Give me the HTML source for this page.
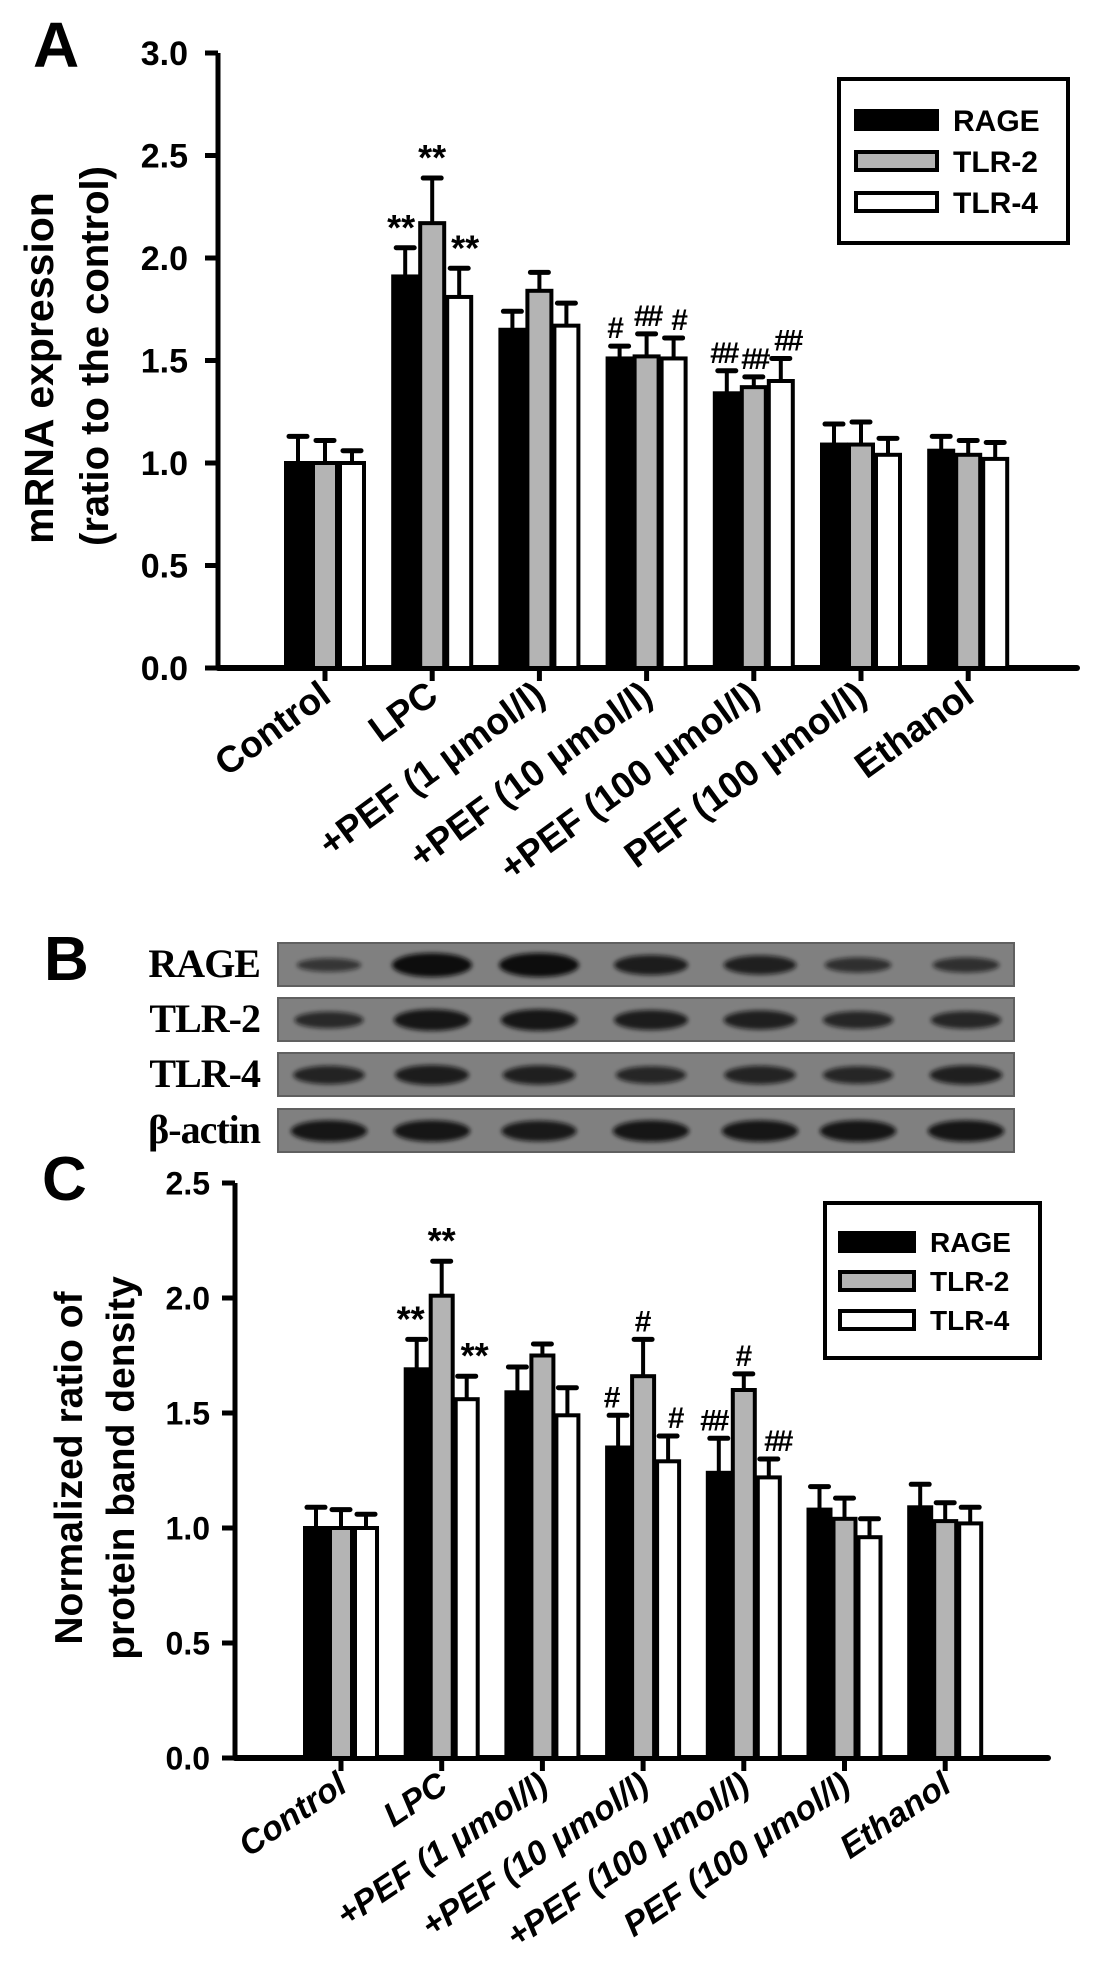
<!DOCTYPE html>
<html><head><meta charset="utf-8"><style>
html,body{margin:0;padding:0;background:#fff;}
svg{display:block;font-family:"Liberation Sans",Arial,sans-serif;}
</style></head><body>
<svg id="fig" width="1098" height="1968" viewBox="0 0 1098 1968" xmlns="http://www.w3.org/2000/svg">
<defs><filter id="blur" x="-20%" y="-50%" width="140%" height="200%"><feGaussianBlur stdDeviation="2"/></filter></defs>
<g id="panelA"></g>
<g id="panelB"></g>
<g id="panelC"></g>
</svg>
<script>
const categories = ["Control","LPC","+PEF (1 \u03bcmol/l)","+PEF (10 \u03bcmol/l)","+PEF (100 \u03bcmol/l)","PEF (100 \u03bcmol/l)","Ethanol"];
const seriesNames = ["RAGE","TLR-2","TLR-4"];
// Panel A: mRNA expression
const aRAGE = [1.00,1.91,1.65,1.51,1.34,1.09,1.06];
const aRAGEerr = [0.13,0.14,0.09,0.06,0.11,0.10,0.07];
const aTLR2 = [1.00,2.17,1.84,1.52,1.37,1.09,1.04];
const aTLR2err = [0.11,0.22,0.09,0.11,0.05,0.11,0.07];
const aTLR4 = [1.00,1.81,1.67,1.51,1.40,1.04,1.02];
const aTLR4err = [0.06,0.14,0.11,0.10,0.11,0.08,0.08];
const aTicks = ["0.0","0.5","1.0","1.5","2.0","2.5","3.0"];
const aMarks = [["","",""],["**","**","**"],["","",""],["#","##","#"],["##","##","##"],["","",""],["","",""]];
// Panel C: protein band density
const cRAGE = [1.00,1.69,1.59,1.35,1.24,1.08,1.09];
const cRAGEerr = [0.09,0.13,0.11,0.14,0.15,0.10,0.10];
const cTLR2 = [1.00,2.01,1.75,1.66,1.60,1.04,1.03];
const cTLR2err = [0.08,0.15,0.05,0.16,0.07,0.09,0.08];
const cTLR4 = [1.00,1.56,1.49,1.29,1.22,0.96,1.02];
const cTLR4err = [0.06,0.10,0.12,0.11,0.08,0.08,0.07];
const cTicks = ["0.0","0.5","1.0","1.5","2.0","2.5"];
const cMarks = [["","",""],["**","**","**"],["","",""],["#","#","#"],["##","#","##"],["","",""],["","",""]];
// Panel B: band intensities (0-1) per lane
const blotRows = ["RAGE","TLR-2","TLR-4","\u03b2-actin"];
const bandRAGE = [0.35,1.0,1.0,0.75,0.7,0.45,0.45];
const bandTLR2 = [0.55,0.85,0.85,0.75,0.7,0.6,0.6];
const bandTLR4 = [0.65,0.75,0.7,0.6,0.65,0.6,0.7];
const bandActin = [0.85,0.85,0.8,0.85,0.85,0.85,0.85];

const NS="http://www.w3.org/2000/svg";
function mk(parent,tag,attrs,text){const e=document.createElementNS(NS,tag);for(const k in attrs)e.setAttribute(k,attrs[k]);if(text!==undefined)e.textContent=text;parent.appendChild(e);return e;}

function drawChart(g,cfg){
  const yS=v=>cfg.base-v*cfg.unit;
  const xS=i=>cfg.x0+i*cfg.step;
  const ya=mk(g,'line',{x1:cfg.axisX,y1:yS(cfg.ymax),x2:cfg.axisX,y2:cfg.base,stroke:'#000','stroke-width':5});
  
  
  const xa=mk(g,'line',{x1:cfg.axisX,y1:cfg.base,x2:cfg.xEnd,y2:cfg.base,stroke:'#000','stroke-width':6,'stroke-linecap':'round'});
  
  
  cfg.ticks.forEach((t,i)=>{
    const v=parseFloat(t);
    const tl=mk(g,'line',{x1:cfg.axisX-13,y1:yS(v),x2:cfg.axisX,y2:yS(v),stroke:'#000','stroke-width':5});
    
    
    const tx=mk(g,'text',{x:cfg.tickLabelX,y:yS(v)+cfg.tickFont*0.36,'text-anchor':'end','font-size':cfg.tickFont,'font-weight':'bold'},t);
    
    
  });
  const series=[cfg.s1,cfg.s2,cfg.s3];
  const errs=[cfg.e1,cfg.e2,cfg.e3];
  const fills=['#000','#b4b4b4','#fff'];
  const bw=cfg.bw;
  categories.forEach((c,i)=>{
    const cx=xS(i);
    const xt=mk(g,'line',{x1:cx,y1:cfg.base,x2:cx,y2:cfg.base+13,stroke:'#000','stroke-width':5});
    
    
    for(let s=0;s<3;s++){
      const v=series[s][i], e=errs[s][i];
      const bx=cx-1.5*bw+s*bw;
      const top=yS(v);
      const el=mk(g,'line',{x1:bx+bw/2,y1:top,x2:bx+bw/2,y2:yS(v+e),stroke:'#000','stroke-width':4});
      
      
      const ec=mk(g,'line',{x1:bx+bw/2-9,y1:yS(v+e),x2:bx+bw/2+9,y2:yS(v+e),stroke:'#000','stroke-width':5,'stroke-linecap':'round'});
      
      
      const r=mk(g,'rect',{x:bx+1.5,y:top,width:bw-3,height:cfg.base-top,fill:fills[s],stroke:'#000','stroke-width':4});
      
      
      const m=cfg.marks[i][s];
      if(m){
        const mt=mk(g,'text',{x:bx+bw/2+cfg.markDx[s],y:yS(v+e)-8,'text-anchor':'middle','font-size':m[0]=='*'?36:30,'font-weight':'bold','letter-spacing':m=='##'?-4:0},m);
        
        
      }
    }
    const lab=mk(g,'text',{x:0,y:0,'text-anchor':'end','font-size':cfg.labFont,'font-weight':'bold','font-style':cfg.italic?'italic':'normal',transform:`translate(${cx+8},${cfg.base+cfg.labDy}) rotate(${-cfg.angle})`},c);
    
    
  });
  const L=cfg.legend;
  const lb=mk(g,'rect',{x:L.x,y:L.y,width:L.w,height:L.h,fill:'#fff',stroke:'#000','stroke-width':4});
  
  
  seriesNames.forEach((n,s)=>{
    const cy=L.cy0+s*L.dy;
    const sw=mk(g,'rect',{x:L.sx,y:cy-9,width:L.sw,height:18,fill:fills[s],stroke:'#000','stroke-width':4});
    
    
    const lt=mk(g,'text',{x:L.tx,y:cy+L.font*0.36,'font-size':L.font,'font-weight':'bold'},n);
    
    
  });
}

const gA=document.getElementById('panelA');
const pa=mk(gA,'text',{x:33,y:67,'font-size':64,'font-weight':'bold'},'A');


const yta=mk(gA,'text',{x:0,y:0,'text-anchor':'middle','font-size':41,'font-weight':'bold',transform:'translate(53,368) rotate(-90)'},'mRNA expression');


const yta2=mk(gA,'text',{x:0,y:0,'text-anchor':'middle','font-size':40,'font-weight':'bold',transform:'translate(108,356) rotate(-90)'},'(ratio to the control)');


drawChart(gA,{base:668,unit:205,ymax:3,axisX:218,xEnd:1077,x0:325,step:107.2,bw:27,ticks:aTicks,tickLabelX:188,tickFont:34,
  s1:aRAGE,s2:aTLR2,s3:aTLR4,e1:aRAGEerr,e2:aTLR2err,e3:aTLR4err,marks:aMarks,markDx:[-4,0,6],
  labFont:37,labDy:32,angle:36,italic:false,
  legend:{x:839,y:79,w:229,h:164,sx:856,sw:81,tx:953,cy0:120,dy:41,font:30}});

const gB=document.getElementById('panelB');
const pb=mk(gB,'text',{x:44,y:980,'font-size':62,'font-weight':'bold'},'B');


const laneX=[329,432,539,651,760,858,966];
const stripY=[943,998,1053,1109];
const bands=[bandRAGE,bandTLR2,bandTLR4,bandActin];
blotRows.forEach((r,k)=>{
  const st=mk(gB,'rect',{x:278,y:stripY[k],width:736,height:43,fill:'#808080',stroke:'#606060','stroke-width':2});
  
  
  const lbl=mk(gB,'text',{x:260,y:stripY[k]+34,'text-anchor':'end','font-size':40,'font-weight':'bold','font-family':'"Liberation Serif",serif','letter-spacing':-1},r);
  
  
  bands[k].forEach((b,i)=>{
    const e=mk(gB,'ellipse',{cx:laneX[i],cy:stripY[k]+22,rx:28+b*12,ry:4+b*8,fill:'#111',opacity:0.45+0.55*b,filter:'url(#blur)'});
    
    
  });
});

const gC=document.getElementById('panelC');
const pc=mk(gC,'text',{x:42,y:1200,'font-size':62,'font-weight':'bold'},'C');


const ytc=mk(gC,'text',{x:0,y:0,'text-anchor':'middle','font-size':39,'font-weight':'bold',transform:'translate(82,1468) rotate(-90)'},'Normalized ratio of');


const ytc2=mk(gC,'text',{x:0,y:0,'text-anchor':'middle','font-size':39,'font-weight':'bold',transform:'translate(134,1468) rotate(-90)'},'protein band density');


drawChart(gC,{base:1758,unit:230,ymax:2.5,axisX:235,xEnd:1048,x0:341,step:100.7,bw:25,ticks:cTicks,tickLabelX:210,tickFont:32,
  s1:cRAGE,s2:cTLR2,s3:cTLR4,e1:cRAGEerr,e2:cTLR2err,e3:cTLR4err,marks:cMarks,markDx:[-6,0,8],
  labFont:34,labDy:32,angle:34,italic:true,
  legend:{x:825,y:1203,w:215,h:155,sx:840,sw:74,tx:930,cy0:1242,dy:39,font:28}});
</script>
</body></html>
